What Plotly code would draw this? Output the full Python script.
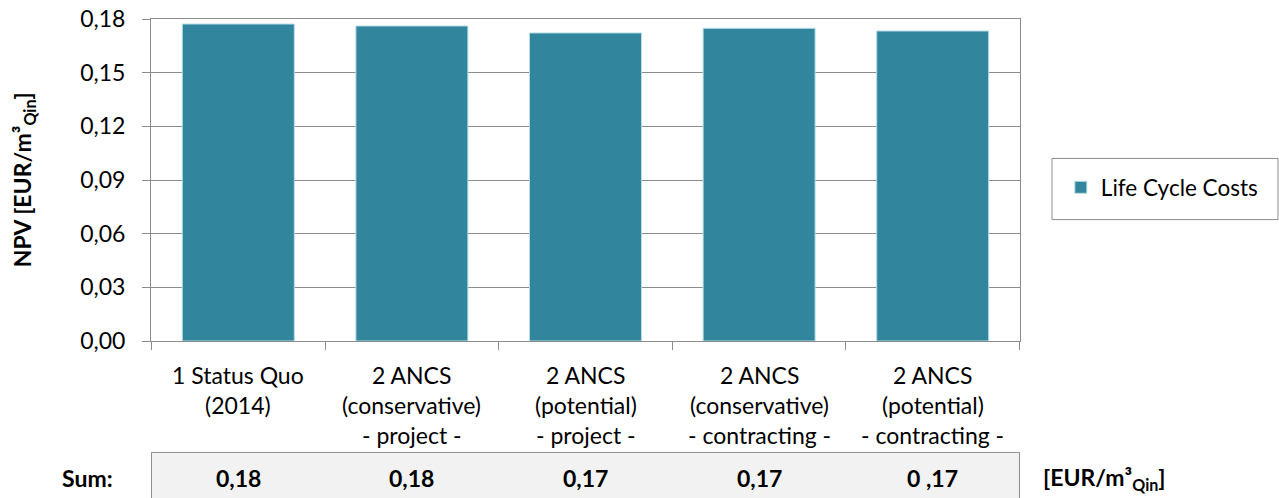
import plotly.graph_objects as go

categories = ["1 Status Quo (2014)", "2 ANCS (conservative) - project -",
              "2 ANCS (potential) - project -", "2 ANCS (conservative) - contracting -",
              "2 ANCS (potential) - contracting -"]
label_lines = [["1 Status Quo", "(2014)", ""],
               ["2 ANCS", "(conservative)", "- project -"],
               ["2 ANCS", "(potential)", "- project -"],
               ["2 ANCS", "(conservative)", "- contracting -"],
               ["2 ANCS", "(potential)", "- contracting -"]]
lcc_values = [0.1772, 0.1761, 0.1722, 0.1748, 0.1733]
sum_labels = ["0,18", "0,18", "0,17", "0,17", "0 ,17"]
y_ticks = [0.0, 0.03, 0.06, 0.09, 0.12, 0.15, 0.18]
series_name = "Life Cycle Costs"

FONT = "Lato"
FS = 23
GRAY = "#8c8c8c"
BAR = "#31859c"

fig = go.Figure()
fig.add_trace(go.Bar(x=categories, y=lcc_values, name=series_name,
                     marker=dict(color=BAR, line=dict(color="#b7dde6", width=1)),
                     showlegend=True))

# category labels (three lines)
line_y = [-0.107, -0.200, -0.293]
for cat, lines in zip(categories, label_lines):
    for ly, txt in zip(line_y, lines):
        if txt:
            fig.add_annotation(x=cat, y=ly, xref="x", yref="paper", text=txt,
                               showarrow=False, yanchor="middle",
                               font=dict(family=FONT, size=FS, color="#000"))

# sum table
fig.add_shape(type="rect", xref="x", yref="paper", x0=-0.5, x1=4.5, y0=-0.6, y1=-0.346,
              fillcolor="#f2f2f2", line=dict(color=GRAY, width=1), layer="below")
for cat, s in zip(categories, sum_labels):
    fig.add_annotation(x=cat, y=-0.427, xref="x", yref="paper", text="<b>%s</b>" % s,
                       showarrow=False, yanchor="middle",
                       font=dict(family=FONT, size=FS, color="#000"))
fig.add_annotation(x=-0.105, y=-0.427, xref="paper", yref="paper", text="<b>Sum:</b>",
                   showarrow=False, yanchor="middle",
                   font=dict(family=FONT, size=FS, color="#000"))
fig.add_annotation(x=1.024, y=-0.427, xref="paper", yref="paper",
                   text="<b>[EUR/m³<sub>Qin</sub>]</b>", xanchor="left",
                   showarrow=False, yanchor="middle",
                   font=dict(family=FONT, size=FS, color="#000"))
# y title
fig.add_annotation(x=-0.147, y=0.5, xref="paper", yref="paper",
                   text="<b>NPV [EUR/m³<sub>Qin</sub>]</b>", textangle=-90,
                   showarrow=False, xanchor="center", yanchor="middle",
                   font=dict(family=FONT, size=FS, color="#000"))

# legend frame
fig.add_shape(type="rect", xref="paper", yref="paper", x0=1.0368, x1=1.2969,
              y0=0.377, y1=0.567, line=dict(color=GRAY, width=1), fillcolor="white",
              layer="below")

fig.update_layout(
    width=1279, height=498,
    margin=dict(l=151, r=259, t=19, b=157, autoexpand=False),
    paper_bgcolor="white", plot_bgcolor="white",
    separators=",.",
    bargap=0.355,
    font=dict(family=FONT, size=FS, color="#000"),
    legend=dict(x=1.047, y=0.543, xanchor="left", yanchor="top",
                borderwidth=0, bgcolor="rgba(0,0,0,0)",
                font=dict(family=FONT, size=FS - 0.5, color="#000"),
                itemwidth=30),
    xaxis=dict(showticklabels=False, ticks="outside", ticklen=8, tickcolor=GRAY,
               tickson="boundaries", showline=True, linecolor=GRAY, mirror=True,
               showgrid=False, automargin=False),
    yaxis=dict(range=[0, 0.18], tickmode="array", tickvals=y_ticks,
               tickformat=".2f", ticks="outside", ticklabeloverflow="allow",
               ticklen=8, tickcolor=GRAY, showline=True, linecolor=GRAY, mirror=True,
               showgrid=True, gridcolor=GRAY, gridwidth=1, zeroline=False,
               ticklabelstandoff=12, automargin=False,
               tickfont=dict(family=FONT, size=FS, color="#000")),
)

fig.write_html("out.html", config={"displayModeBar": False},
               post_script="document.body.style.margin='0';document.body.style.overflow='hidden';")
